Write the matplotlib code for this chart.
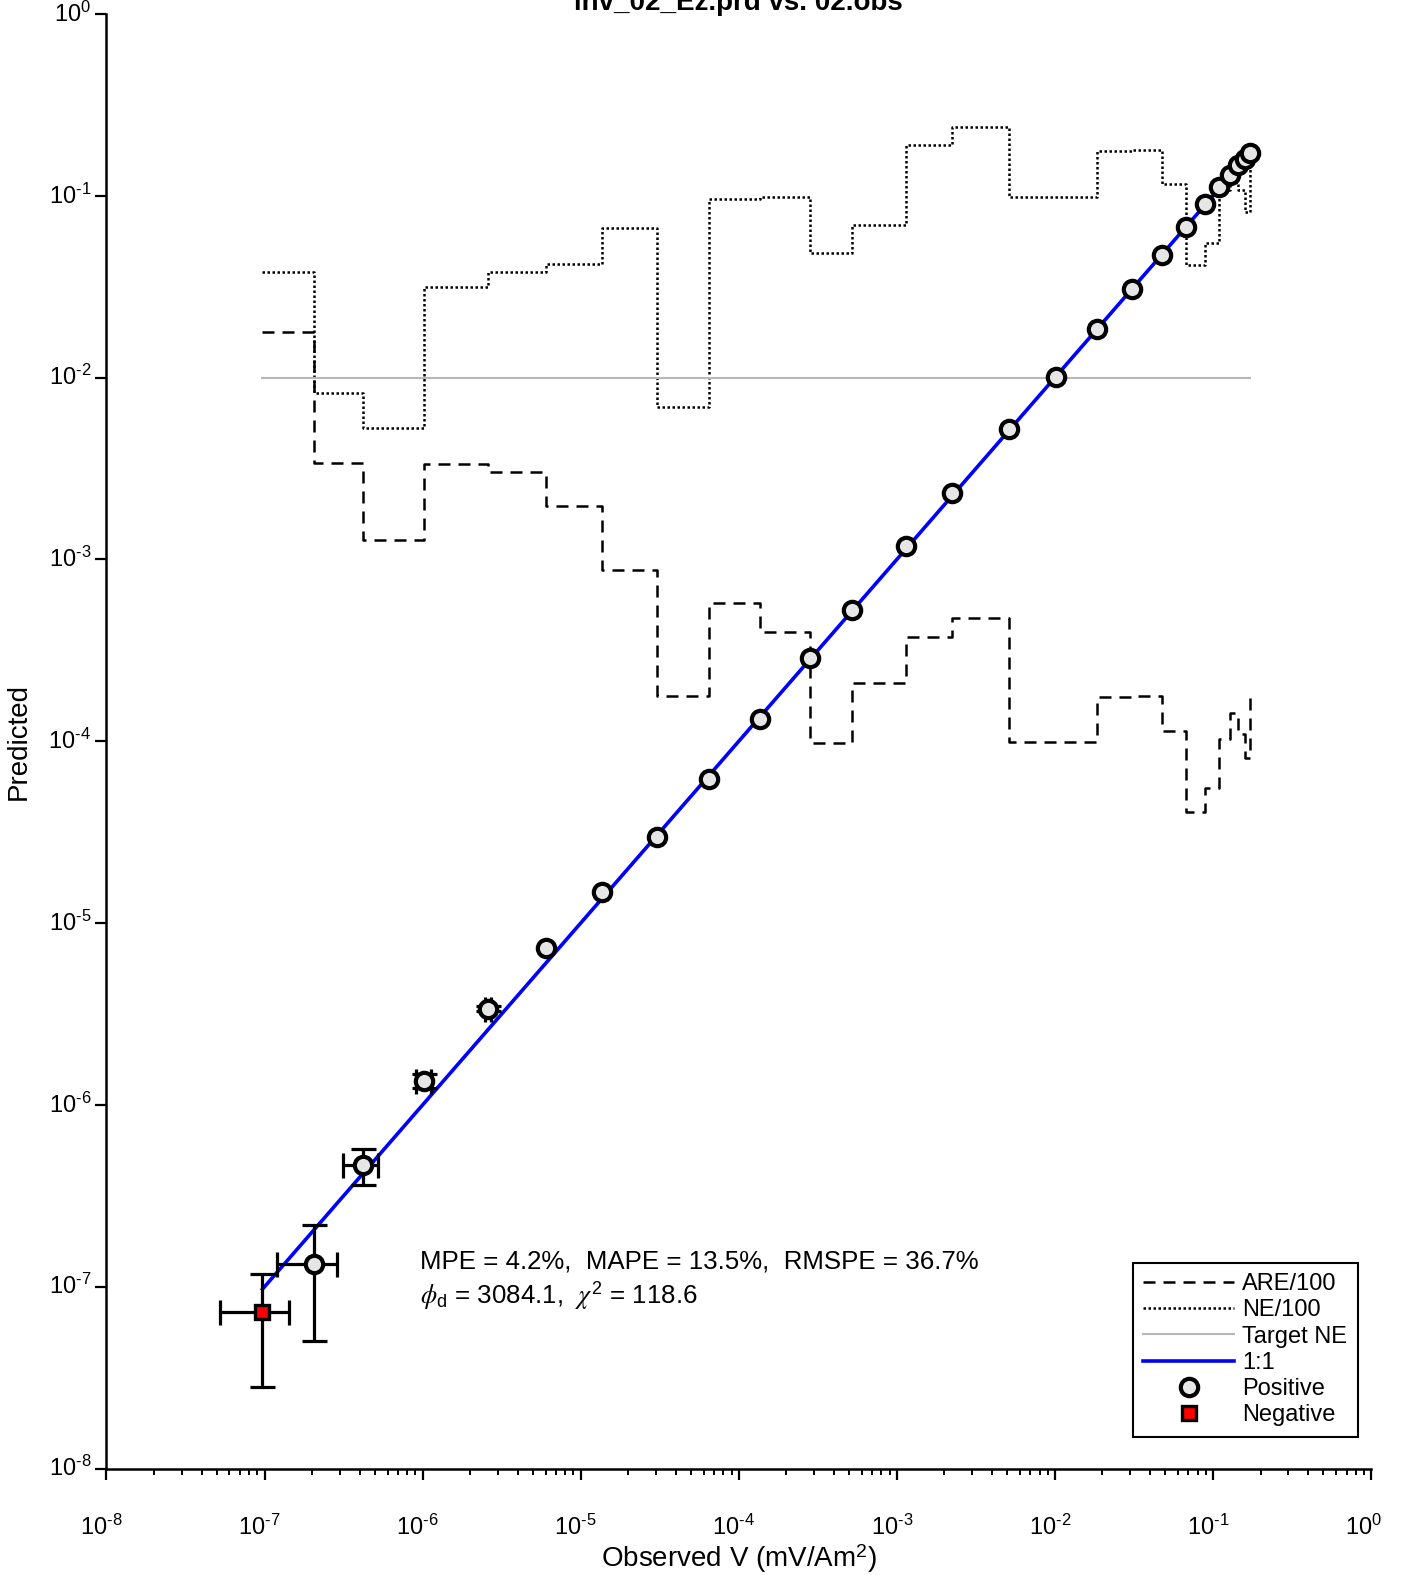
import numpy as np
import matplotlib
matplotlib.use('Agg')
import matplotlib.pyplot as plt
from matplotlib.ticker import LogLocator, NullLocator

plt.rcParams['font.family'] = ['Liberation Sans', 'DejaVu Sans']
plt.rcParams['mathtext.fontset'] = 'custom'
plt.rcParams['mathtext.rm'] = 'Liberation Sans'
plt.rcParams['mathtext.it'] = 'STIXGeneral:italic'
plt.rcParams['mathtext.bf'] = 'Liberation Sans:bold'

# observed / predicted voltages (mV/Am^2), sorted by observed
observed = [9.7e-8, 2.04e-7, 4.2e-7, 1.02e-6, 2.6e-6, 6.07e-6, 1.36e-5, 3.03e-5,
            6.49e-5, 1.37e-4, 2.84e-4, 5.18e-4, 1.14e-3, 2.23e-3, 5.15e-3, 1.01e-2,
            1.84e-2, 3.07e-2, 4.75e-2, 6.76e-2, 8.92e-2, 0.109, 0.128, 0.145, 0.160, 0.172]
predicted = [7.3e-8, 1.34e-7, 4.66e-7, 1.36e-6, 3.39e-6, 7.28e-6, 1.48e-5, 2.99e-5,
             6.17e-5, 1.32e-4, 2.87e-4, 5.29e-4, 1.18e-3, 2.32e-3, 5.23e-3, 1.01e-2,
             1.84e-2, 3.06e-2, 4.72e-2, 6.74e-2, 9.03e-2, 0.112, 0.131, 0.148, 0.160, 0.171]
# data errors (0 = bar hidden under the marker)
errors = [4.5e-8, 8.4e-8, 1.05e-7, 1.15e-7, 1.2e-7, 0, 0, 0,
          0, 0, 0, 0, 0, 0, 0, 0,
          0, 0, 0, 0, 0, 0, 0, 0, 0, 0]
is_negative = [1, 0, 0, 0, 0, 0, 0, 0, 0, 0, 0, 0, 0,
               0, 0, 0, 0, 0, 0, 0, 0, 0, 0, 0, 0, 0]
are_100 = [1.79e-2, 3.40e-3, 1.28e-3, 3.35e-3, 3.04e-3, 1.97e-3, 8.75e-4, 1.77e-4,
           5.74e-4, 3.97e-4, 9.73e-5, 2.08e-4, 3.76e-4, 4.78e-4, 9.86e-5, 9.9e-5,
           1.76e-4, 1.78e-4, 1.14e-4, 4.09e-5, 5.52e-5, 1.03e-4, 1.43e-4, 1.10e-4, 8.1e-5, 1.84e-4]
ne_100 = [0.0380, 0.00826, 0.00528, 0.0316, 0.0381, 0.0422, 0.0668, 0.00689,
          0.0960, 0.0989, 0.0486, 0.0691, 0.190, 0.238, 0.0989, 0.0981,
          0.177, 0.179, 0.116, 0.0416, 0.0548, 0.108, 0.119, 0.108, 0.0815, 0.144]
target_ne = 0.01
decades = list(range(-8, 1))

obs = np.array(observed)
prd = np.array(predicted)
err = np.array(errors)
neg = np.array(is_negative, dtype=bool)
has_err = err > 0

fig = plt.figure(figsize=(14.05, 15.75), dpi=100)
ax = fig.add_axes([0.0758, 0.0676, 0.9, 0.9235])

ax.step(obs, are_100, where='post', color='k', lw=1.8, ls=(0, (4.8, 3.2)), label='ARE/100')
ax.step(obs, ne_100, where='post', color='k', lw=1.8, ls=(0, (1, 1)), label='NE/100')
ax.plot([obs[0], obs[-1]], [target_ne, target_ne], color='#b8b8b8', lw=1.5, label='Target NE')
ax.plot([obs[0], obs[-1]], [obs[0], obs[-1]], color='#0000ff', lw=2.6, label='1:1')
ax.errorbar(obs[has_err], prd[has_err], xerr=err[has_err], yerr=err[has_err], fmt='none',
            ecolor='k', elinewidth=2.3, capsize=9, capthick=2.3, zorder=3)
ax.plot(obs[~neg], prd[~neg], 'o', ms=12.5, mfc='#e6e6e6', mec='k', mew=3,
        label='Positive', zorder=4)
ax.plot(obs[neg], prd[neg], 's', ms=10.5, mfc='#ff0000', mec='k', mew=2.4,
        label='Negative', zorder=4)

ax.set_xscale('log')
ax.set_yscale('log')
ax.set_xlim(1e-8, 1)
ax.set_ylim(1e-8, 1)
ax.xaxis.set_major_locator(LogLocator(base=10, numticks=20))
ax.xaxis.set_minor_locator(LogLocator(base=10, subs=np.arange(2, 10), numticks=20))
ax.yaxis.set_major_locator(LogLocator(base=10, numticks=20))
ax.yaxis.set_minor_locator(NullLocator())

for s in ['top', 'right']:
    ax.spines[s].set_visible(False)
for s in ['left', 'bottom']:
    ax.spines[s].set_linewidth(1.8)
ax.tick_params(which='major', direction='out', length=8, width=1.6,
               labelbottom=False, labelleft=False)
ax.tick_params(which='minor', direction='out', length=4.5, width=1.4)

# tick labels: "10" sits left of the tick, the exponent to its right (hyphen minus)
for k in decades:
    expo = '0' if k == 0 else '\\text{-}%d' % (-k)
    lab = '$\\mathdefault{10^{%s}}$' % expo
    ax.annotate(lab, xy=(10.0 ** k, 0), xycoords=('data', 'axes fraction'),
                xytext=(-18.9, -33.5), textcoords='offset points', ha='left', va='top',
                fontsize=17, annotation_clip=False)
    ax.annotate(lab, xy=(0, 10.0 ** k), xycoords=('axes fraction', 'data'),
                xytext=(-11, 0), textcoords='offset points', ha='right', va='center',
                fontsize=17, annotation_clip=False)

ax.set_xlabel('Observed V (mV/Am$^{\\mathdefault{2}}$)', fontsize=20)
ax.set_ylabel('Predicted', fontsize=20)
ax.xaxis.set_label_coords(0.5, -0.0505)
ax.yaxis.set_label_coords(-0.059, 0.5)

fig.text(0.5258, 1 - 10 / 1575, 'inv_02_Ez.prd vs. 02.obs', ha='center', va='baseline',
         fontsize=20, fontweight='bold')

fig.text(420 / 1405, 1 - 1269 / 1575, 'MPE = 4.2%,  MAPE = 13.5%,  RMSPE = 36.7%',
         fontsize=18.6, va='baseline', ha='left')
fig.text(420 / 1405, 1 - 1304 / 1575,
         '$\\phi_{\\mathdefault{d}}$ = 3084.1,  $\\chi^{\\mathdefault{2}}$ = 118.6',
         fontsize=18.6, va='baseline', ha='left')

leg = ax.legend(loc='lower right', bbox_to_anchor=(1358 / 1405, 1 - 1437 / 1575),
                bbox_transform=fig.transFigure, fontsize=17, frameon=True, fancybox=False,
                edgecolor='k', framealpha=1, handlelength=3.85, labelspacing=0.18,
                borderpad=0.45, handletextpad=0.35, borderaxespad=0)
leg.get_frame().set_linewidth(1.5)

fig.savefig('out.png', dpi=100)
